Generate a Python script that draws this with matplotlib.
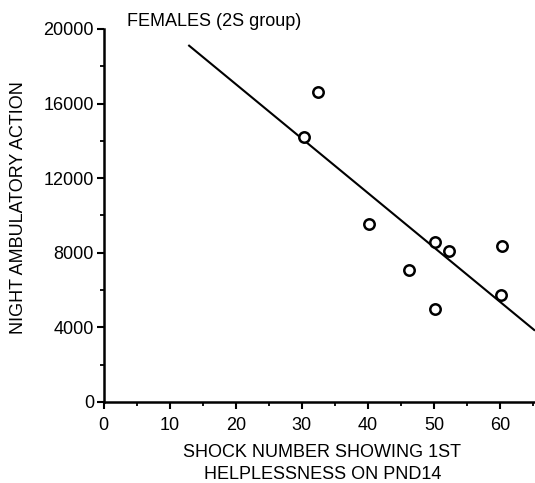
import matplotlib
matplotlib.use("Agg")
import matplotlib.pyplot as plt
from matplotlib.ticker import MultipleLocator

plt.rcParams["font.family"] = ["Liberation Sans", "DejaVu Sans"]

# shock number at first helplessness vs. night ambulatory counts
shock_number = [30.3, 32.4, 40.1, 46.2, 50.1, 50.2, 52.3, 60.1, 60.3]
night_activity = [14200, 16600, 9550, 7050, 5000, 8580, 8100, 5750, 8380]

# regression line end points
fit_x = [12.8, 65.3]
fit_y = [19140, 3820]

x_ticks = [0, 10, 20, 30, 40, 50, 60]
y_ticks = [0, 4000, 8000, 12000, 16000, 20000]

fig = plt.figure(figsize=(5.35, 4.83), dpi=100)
ax = fig.add_axes([0.194, 0.168, 0.806, 0.772])

ax.plot(fit_x, fit_y, color="black", lw=1.5, solid_capstyle="butt")
ax.plot(shock_number, night_activity, "o", ms=7.5, mfc="white",
        mec="black", mew=1.8)

ax.set_xlim(0, 65.3)
ax.set_ylim(0, 20000)
ax.set_xticks(x_ticks)
ax.set_yticks(y_ticks)
ax.xaxis.set_minor_locator(MultipleLocator(5))
ax.yaxis.set_minor_locator(MultipleLocator(2000))

for side in ("top", "right"):
    ax.spines[side].set_visible(False)
for side in ("left", "bottom"):
    ax.spines[side].set_linewidth(1.8)

ax.tick_params(axis="both", which="major", direction="out", length=5,
               width=1.5, labelsize=13)
ax.tick_params(axis="both", which="minor", direction="out", length=3,
               width=1.3)
ax.tick_params(axis="x", which="major", pad=6)
ax.tick_params(axis="y", which="major", pad=2)

ax.set_ylabel("NIGHT AMBULATORY ACTION", fontsize=13)
ax.yaxis.set_label_coords(-0.198, 0.52, transform=ax.transAxes)
ax.yaxis.label.set_va("center")

ax.set_xlabel("SHOCK NUMBER SHOWING 1ST\nHELPLESSNESS ON PND14",
              fontsize=13, linespacing=1.4)
ax.xaxis.set_label_coords(0.507, -0.112, transform=ax.transAxes)
ax.xaxis.label.set_va("top")

fig.text(127 / 535, 1 - 21 / 483, "FEMALES (2S group)", fontsize=13,
         ha="left", va="center")

fig.savefig("out.png", dpi=100)
